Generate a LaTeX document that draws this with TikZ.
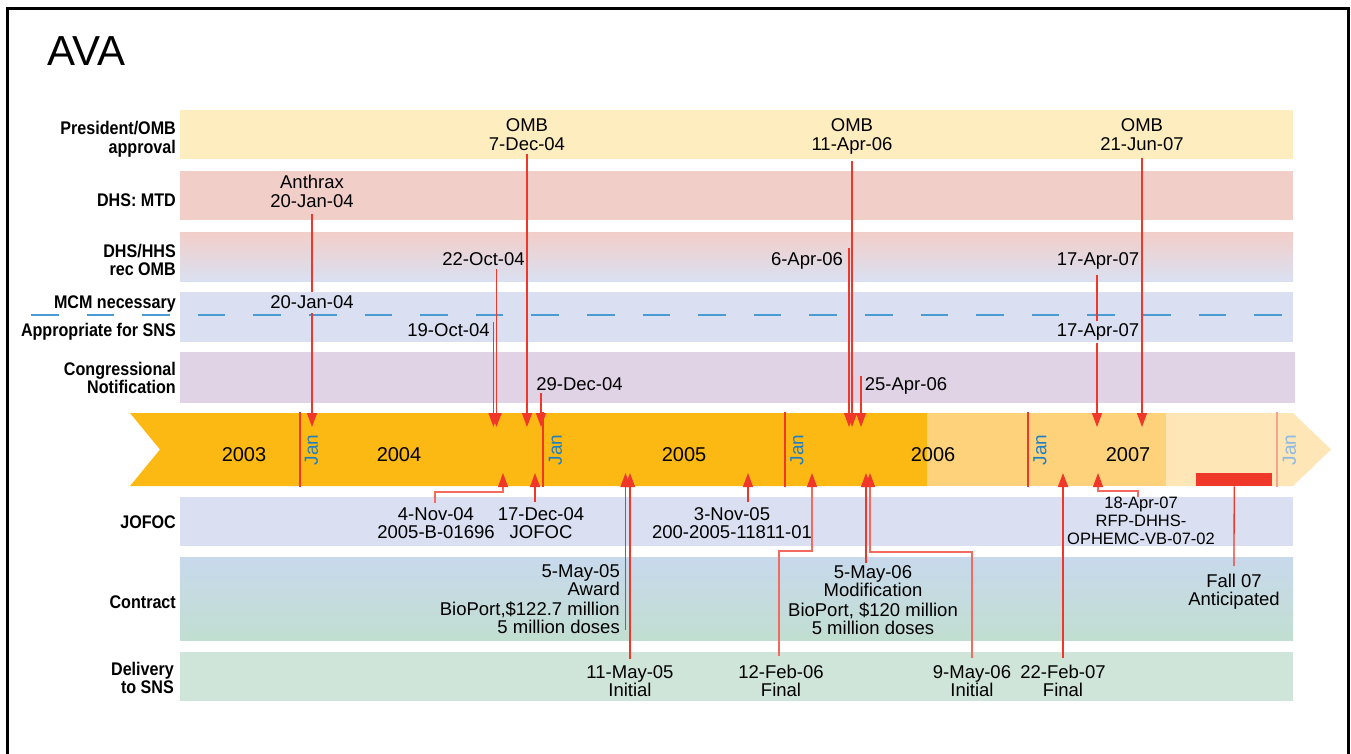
\documentclass[tikz,border=0pt]{standalone}
\usepackage{fontspec}
\setmainfont{Liberation Sans}
\newfontfamily\lblfont[FakeStretch=0.88]{Liberation Sans Bold}
\usetikzlibrary{arrows.meta}
\newcommand{\mlc}[1]{\begin{tabular}[t]{@{}c@{}}#1\end{tabular}}
\newcommand{\mlr}[1]{\begin{tabular}[t]{@{}r@{}}#1\end{tabular}}
\definecolor{evred}{HTML}{EF3829}
\definecolor{evpink}{HTML}{F26A60}
\definecolor{janblue}{HTML}{1F7FC4}
\definecolor{janlight}{HTML}{8CB9E3}
\definecolor{redlight}{HTML}{F6A38C}
\definecolor{tdark}{HTML}{FDB913}
\definecolor{tlight}{HTML}{FED27B}
\definecolor{tvlight}{HTML}{FEE6B7}
\definecolor{cpres}{HTML}{FEEDBE}
\definecolor{cmtd}{HTML}{F2CEC9}
\definecolor{cblue}{HTML}{DAE0F1}
\definecolor{ccong}{HTML}{E0D3E5}
\definecolor{cctop}{HTML}{C8D9EC}
\definecolor{ccbot}{HTML}{C1DED1}
\definecolor{cdel}{HTML}{CFE5DA}
\definecolor{dashblue}{HTML}{4A9AD4}
\tikzset{
  lbl/.style={font=\lblfont\fontsize{18.3}{18}\selectfont, anchor=base east, inner sep=0pt},
  txt/.style={font=\fontsize{18.5}{18.3}\selectfont, anchor=base, inner sep=0pt},
  smalltxt/.style={font=\fontsize{16.5}{18}\selectfont, anchor=base, inner sep=0pt},
  yr/.style={font=\fontsize{20}{20}\selectfont, anchor=base, inner sep=0pt},
  janlbl/.style={font=\fontsize{19}{19}\selectfont, rotate=90, text=janblue, inner sep=0pt},
  janline/.style={draw=evred, line width=2pt},
  conn/.style={draw=evred, line width=1.3pt},
  connp/.style={draw=evpink, line width=1.1pt},
  tip/.style={-{Triangle[width=10pt,length=14pt,color=evred]}},
}
\begin{document}
\begin{tikzpicture}[x=1pt,y=-1pt]
\useasboundingbox (0,0) rectangle (1351,754);
\fill[white] (0,0) rectangle (1351,754);
\draw[line width=3pt] (7,770) -- (7,9) -- (1348.5,9) -- (1348.5,770);

% title
\node[font=\fontsize{42}{42}\selectfont, anchor=base west, inner sep=0pt] (title) at (47,66) {AVA};

% bands
\fill[cpres] (180,110) rectangle (1293,159);
\fill[cmtd] (180,171) rectangle (1293,220);
\shade[top color=cmtd, bottom color=cblue] (180,232) rectangle (1293,281);
\fill[cblue] (180,292) rectangle (1293,342);
\fill[ccong] (180,352) rectangle (1295,403);
\fill[cblue] (180,497) rectangle (1293,546);
\shade[top color=cctop, bottom color=ccbot] (180,557) rectangle (1293,640);
\fill[cdel] (180,652) rectangle (1293,701);

% MCM dashed line
\draw[dashblue, line width=1.8pt, dash pattern=on 27.5pt off 28.1pt] (31,315) -- (1283,315);

% row labels
\node[lbl] (l1) at (176,135) {\mlr{President/OMB\\approval}};
\node[lbl] (l2) at (176,206) {DHS: MTD};
\node[lbl] (l3) at (176,257) {\mlr{DHS/HHS\\rec OMB}};
\node[lbl] (l4) at (176,308) {MCM necessary};
\node[lbl] (l5) at (176,336) {Appropriate for SNS};
\node[lbl] (l6) at (176,375) {\mlr{Congressional\\Notification}};
\node[lbl] (l7) at (176,528) {JOFOC};
\node[lbl] (l8) at (176,608) {Contract};
\node[lbl] (l9) at (174,675) {\mlr{Delivery\\to SNS}};

% timeline arrow
\fill[tdark] (130,413) -- (927,413) -- (927,486) -- (130,486) -- (160,449.5) -- cycle;
\fill[tlight] (927,413) rectangle (1166,486);
\fill[tvlight] (1166,413) -- (1293,413) -- (1331,449.5) -- (1293,486) -- (1166,486) -- cycle;

\foreach \i/\x/\t in {1/300/311.5, 2/543/555.5, 3/785/797, 4/1028/1040}{
  \draw[janline] (\x,412) -- (\x,487);
  \node[janlbl] (jan\i) at (\t,450) {Jan};
}
\draw[janline, draw=redlight] (1277,412) -- (1277,487);
\node[janlbl, text=janlight] (jan5) at (1289.5,450) {Jan};

\node[yr] (y3) at (244,461) {2003};
\node[yr] (y4) at (399,461) {2004};
\node[yr] (y5) at (684,461) {2005};
\node[yr] (y6) at (933,461) {2006};
\node[yr] (y7) at (1128,461) {2007};

\node[fill=evred, minimum width=76pt, minimum height=13pt, inner sep=0pt, anchor=north west] (bar) at (1196,473) {};

% top event labels
\node[txt] (omb1) at (527,132) {\mlc{OMB\\7-Dec-04}};
\node[txt] (omb2) at (852,132) {\mlc{OMB\\11-Apr-06}};
\node[txt] (omb3) at (1142,132) {\mlc{OMB\\21-Jun-07}};
\node[txt] (anth) at (312,189) {\mlc{Anthrax\\20-Jan-04}};
\node[txt] (oct22) at (483.5,265) {22-Oct-04};
\node[txt] (apr6) at (807,265) {6-Apr-06};
\node[txt] (apr17a) at (1098,265) {17-Apr-07};
\node[txt] (jan20) at (312,308) {20-Jan-04};
\node[txt] (oct19) at (448.5,336) {19-Oct-04};
\node[txt] (apr17b) at (1098,336) {17-Apr-07};
\node[txt] (dec29) at (579.5,390) {29-Dec-04};
\node[txt] (apr25) at (906,390) {25-Apr-06};

% bottom event labels
\node[txt] (nov4) at (436,520) {\mlc{4-Nov-04\\2005-B-01696}};
\node[txt] (dec17) at (541,520) {\mlc{17-Dec-04\\JOFOC}};
\node[txt] (nov3) at (732,520) {\mlc{3-Nov-05\\200-2005-11811-01}};
\node[smalltxt] (apr18) at (1141,508) {\mlc{18-Apr-07\\RFP-DHHS-\\OPHEMC-VB-07-02}};
\node[txt, anchor=base east] (may5) at (620,577) {\mlr{5-May-05\\Award\\BioPort,\$122.7 million\\5 million doses}};
\node[txt] (may5b) at (873,578) {\mlc{5-May-06\\Modification\\BioPort, \$120 million\\5 million doses}};
\node[txt] (fall) at (1234,587) {\mlc{Fall 07\\Anticipated}};
\node[txt] (may11) at (630,678) {\mlc{11-May-05\\Initial}};
\node[txt] (feb12) at (781,678) {\mlc{12-Feb-06\\Final}};
\node[txt] (may9) at (972,678) {\mlc{9-May-06\\Initial}};
\node[txt] (feb22) at (1063,678) {\mlc{22-Feb-07\\Final}};

% connector coordinates (top, tips at 427)
\coordinate (a1s) at (312,214);   \coordinate (a1m) at (312,292);
\coordinate (a1r) at (312,313);   \coordinate (a1t) at (312,427);
\coordinate (a2s) at (527,154);   \coordinate (a2t) at (527,427);
\coordinate (a3s) at (496.5,269); \coordinate (a3t) at (496.5,427);
\coordinate (a4s) at (493.5,322); \coordinate (a4t) at (493.5,427);
\coordinate (a5s) at (541,393);   \coordinate (a5t) at (541,427);
\coordinate (a6s) at (849,248);   \coordinate (a6t) at (849,427);
\coordinate (a7s) at (852,161);   \coordinate (a7t) at (852,427);
\coordinate (a8s) at (861,376);   \coordinate (a8t) at (861,427);
\coordinate (a9s) at (1097,275);  \coordinate (a9m) at (1097,321);
\coordinate (a9r) at (1097,343);  \coordinate (a9t) at (1097,427);
\coordinate (a10s) at (1142,158); \coordinate (a10t) at (1142,427);

\draw[conn] (a1s) -- (a1m);
\draw[conn, tip] (a1r) -- (a1t);
\draw[conn, tip] (a2s) -- (a2t);
\draw[conn, tip] (a3s) -- (a3t);
\draw[conn, tip] (a4s) -- (a4t);
\draw[conn, tip] (a5s) -- (a5t);
\draw[conn, tip] (a6s) -- (a6t);
\draw[conn, tip] (a7s) -- (a7t);
\draw[conn, tip] (a8s) -- (a8t);
\draw[conn] (a9s) -- (a9m);
\draw[conn, tip] (a9r) -- (a9t);
\draw[conn, tip] (a10s) -- (a10t);

% connector coordinates (bottom, tips at 473)
\coordinate (b1s) at (435,503);  \coordinate (b1t) at (503,473);
\coordinate (b2s) at (535,502);  \coordinate (b2t) at (535,473);
\coordinate (b3s) at (625.5,630); \coordinate (b3t) at (625.5,473);
\coordinate (b4s) at (630,659);  \coordinate (b4t) at (630,473);
\coordinate (b5s) at (748,502);  \coordinate (b5t) at (748,473);
\coordinate (b6s) at (779,656);  \coordinate (b6t) at (812,473);
\coordinate (b7s) at (866,563);  \coordinate (b7t) at (866,473);
\coordinate (b8s) at (972,658);  \coordinate (b8t) at (870,473);
\coordinate (b9s) at (1063,658); \coordinate (b9t) at (1063,473);
\coordinate (b10s) at (1138,497); \coordinate (b10t) at (1098,473);
\coordinate (fallend) at (1234,566);

\draw[connp, tip] (b1s) -- (435,492) -| (b1t);
\draw[conn, tip] (b2s) -- (b2t);
\draw[conn, tip] (b3s) -- (b3t);
\draw[conn, tip] (b4s) -- (b4t);
\draw[conn, tip] (b5s) -- (b5t);
\draw[connp, tip] (b6s) -- (779,551) -| (b6t);
\draw[conn, tip] (b7s) -- (b7t);
\draw[connp, tip] (b8s) -- (972,552) -| (b8t);
\draw[conn, line width=2pt, tip] (b9s) -- (b9t);
\draw[connp, tip] (b10s) -- (1138,491) -| (b10t);
\draw[conn] (bar.south) -- (fallend);
\end{tikzpicture}
\end{document}
